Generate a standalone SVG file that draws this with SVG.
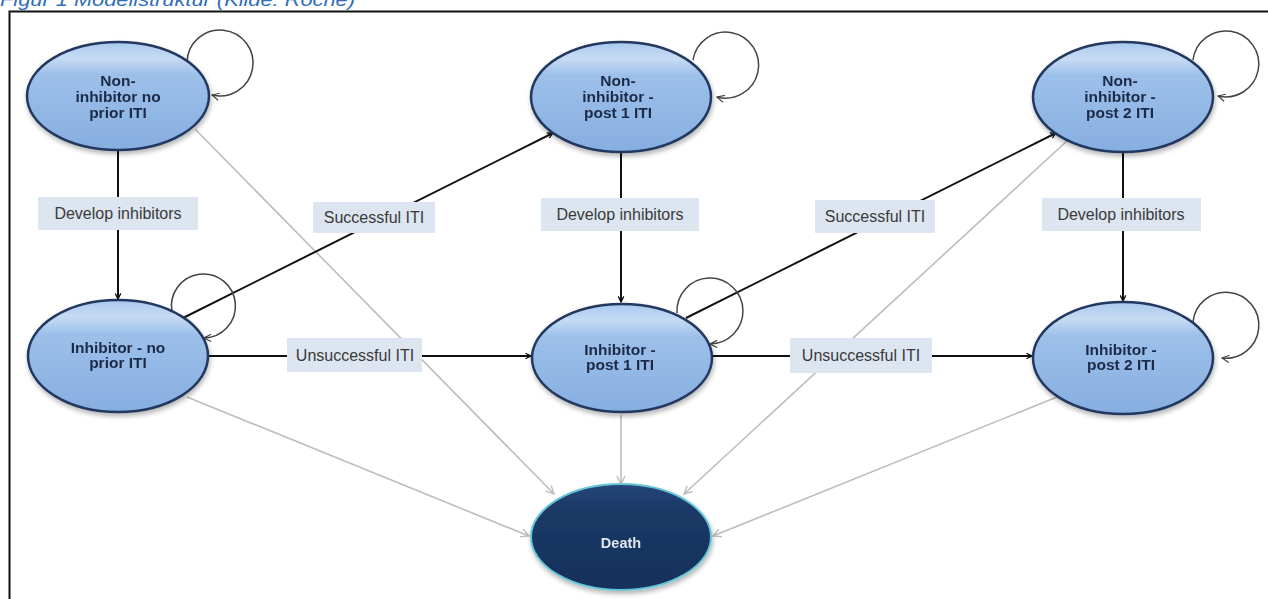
<svg xmlns="http://www.w3.org/2000/svg" width="1268" height="599" viewBox="0 0 1268 599">
<style>
.title{font-family:"Liberation Sans",Arial,sans-serif;font-style:italic;font-size:19px;fill:#2f6eba}
.node{fill:url(#gBlue);stroke:#22385e;stroke-width:2.5}
.ntxt{font-family:"Liberation Sans",Arial,sans-serif;font-weight:bold;font-size:15.5px;fill:#1c2b47;text-anchor:middle}
.lbl{fill:#dce5f0}
.ltxt{font-family:"Liberation Sans",Arial,sans-serif;font-size:16px;fill:#3a3a3a;text-anchor:middle}
.blk{stroke:#111;stroke-width:2;fill:none;marker-end:url(#ab)}
.loop{stroke:#444;stroke-width:1.5;fill:none;marker-end:url(#al)}
.gry{stroke:#bdbdbd;stroke-width:1.6;fill:none;marker-end:url(#ag)}
</style>
<defs>
<linearGradient id="gBlue" x1="0" y1="0" x2="0" y2="1">
<stop offset="0" stop-color="#a9c8ee"/>
<stop offset="0.15" stop-color="#c6dbf4"/>
<stop offset="0.3" stop-color="#9dc0ea"/>
<stop offset="1" stop-color="#86aee0"/>
</linearGradient>
<linearGradient id="gDark" x1="0" y1="0" x2="0" y2="1">
<stop offset="0" stop-color="#26467a"/>
<stop offset="0.25" stop-color="#1b3966"/>
<stop offset="1" stop-color="#14305a"/>
</linearGradient>
<filter id="sh" x="-20%" y="-20%" width="140%" height="150%">
<feGaussianBlur in="SourceAlpha" stdDeviation="2.5"/>
<feOffset dx="1" dy="3" result="o"/>
<feComponentTransfer><feFuncA type="linear" slope="0.3"/></feComponentTransfer>
<feMerge><feMergeNode/><feMergeNode in="SourceGraphic"/></feMerge>
</filter>
<marker id="ab" viewBox="0 0 10 10" refX="9" refY="5" markerWidth="7" markerHeight="7" markerUnits="userSpaceOnUse" orient="auto">
<path d="M1,1 L9,5 L1,9" fill="none" stroke="#111" stroke-width="1.8"/>
</marker>
<marker id="al" viewBox="0 0 10 10" refX="9" refY="5" markerWidth="9" markerHeight="9" markerUnits="userSpaceOnUse" orient="auto">
<path d="M1,1 L9,5 L1,9" fill="none" stroke="#444" stroke-width="1.3"/>
</marker>
<marker id="ag" viewBox="0 0 10 10" refX="9" refY="5" markerWidth="10" markerHeight="10" markerUnits="userSpaceOnUse" orient="auto">
<path d="M1,1 L9,5 L1,9" fill="none" stroke="#bdbdbd" stroke-width="1.4"/>
</marker>
</defs>
<rect width="1268" height="599" fill="#fff"/>
<text class="title" x="0" y="6" textLength="355" lengthAdjust="spacingAndGlyphs">Figur 1 Modellstruktur (Kilde: Roche)</text>
<path d="M9.5,599 L9.5,11.5 L1268,11.5" fill="none" stroke="#111" stroke-width="2"/>

<g id="connectors">
<line class="gry" x1="195" y1="129" x2="554" y2="494"/>
<line class="gry" x1="187" y1="397" x2="529" y2="536"/>
<line class="gry" x1="621" y1="415" x2="621" y2="484"/>
<line class="gry" x1="1057" y1="397" x2="713" y2="536"/>
<line class="gry" x1="1068" y1="140" x2="684" y2="494"/>
<line class="blk" x1="118" y1="151" x2="118" y2="299"/>
<line class="blk" x1="621" y1="153" x2="621" y2="302"/>
<line class="blk" x1="1123" y1="153" x2="1123" y2="301"/>
<line class="blk" x1="183" y1="318" x2="553" y2="133"/>
<line class="blk" x1="686" y1="318" x2="1056" y2="133"/>
<line class="blk" x1="208" y1="356" x2="531" y2="356"/>
<line class="blk" x1="713" y1="356" x2="1032" y2="356"/>
<path class="loop" d="M187,62 A33,33 0 1,1 212,95"/>
<path class="loop" d="M693,60 A33,33 0 1,1 717,97"/>
<path class="loop" d="M1193,60 A33,33 0 1,1 1218,96"/>
<path class="loop" d="M172,312 A32,32 0 1,1 204,338"/>
<path class="loop" d="M677,313 A33,33 0 1,1 710,344"/>
<path class="loop" d="M1193,322 A33,33 0 1,1 1222,358"/>
<rect class="lbl" x="38" y="197" width="160" height="33"/>
<text class="ltxt" x="118" y="219">Develop inhibitors</text>
<rect class="lbl" x="541" y="198" width="158" height="33"/>
<text class="ltxt" x="620" y="220">Develop inhibitors</text>
<rect class="lbl" x="1042" y="198" width="159" height="33"/>
<text class="ltxt" x="1121" y="220">Develop inhibitors</text>
<rect class="lbl" x="313" y="202" width="122" height="31"/>
<text class="ltxt" x="374" y="223">Successful ITI</text>
<rect class="lbl" x="815" y="200" width="120" height="33"/>
<text class="ltxt" x="875" y="222">Successful ITI</text>
<rect class="lbl" x="287" y="338" width="135" height="34"/>
<text class="ltxt" x="355" y="361">Unsuccessful ITI</text>
<rect class="lbl" x="790" y="338" width="142" height="35"/>
<text class="ltxt" x="861" y="361">Unsuccessful ITI</text>
</g>

<g id="n1" filter="url(#sh)">
<ellipse class="node" cx="118" cy="96" rx="91" ry="54"/>
<text class="ntxt" x="118" y="86">Non-</text>
<text class="ntxt" x="118" y="102">inhibitor no</text>
<text class="ntxt" x="118" y="118">prior ITI</text>
</g>
<g id="n2" filter="url(#sh)">
<ellipse class="node" cx="621" cy="97" rx="90" ry="55"/>
<text class="ntxt" x="618" y="86">Non-</text>
<text class="ntxt" x="618" y="102">inhibitor -</text>
<text class="ntxt" x="618" y="118">post 1 ITI</text>
</g>
<g id="n3" filter="url(#sh)">
<ellipse class="node" cx="1123" cy="97" rx="90" ry="55"/>
<text class="ntxt" x="1120" y="86">Non-</text>
<text class="ntxt" x="1120" y="102">inhibitor -</text>
<text class="ntxt" x="1120" y="118">post 2 ITI</text>
</g>
<g id="i1" filter="url(#sh)">
<ellipse class="node" cx="118" cy="356" rx="90" ry="56"/>
<text class="ntxt" x="118" y="353">Inhibitor - no</text>
<text class="ntxt" x="118" y="368">prior ITI</text>
</g>
<g id="i2" filter="url(#sh)">
<ellipse class="node" cx="622" cy="358" rx="90" ry="54"/>
<text class="ntxt" x="620" y="355">Inhibitor -</text>
<text class="ntxt" x="620" y="370">post 1 ITI</text>
</g>
<g id="i3" filter="url(#sh)">
<ellipse class="node" cx="1123" cy="358" rx="90" ry="56"/>
<text class="ntxt" x="1121" y="355">Inhibitor -</text>
<text class="ntxt" x="1121" y="370">post 2 ITI</text>
</g>
<g id="death" filter="url(#sh)">
<ellipse cx="621" cy="537" rx="90" ry="53" fill="url(#gDark)" stroke="#66c6d6" stroke-width="2"/>
<text x="621" y="548" font-family="Liberation Sans, Arial, sans-serif" font-weight="bold" font-size="14.5" fill="#dfe6f0" text-anchor="middle">Death</text>
</g>
</svg>
